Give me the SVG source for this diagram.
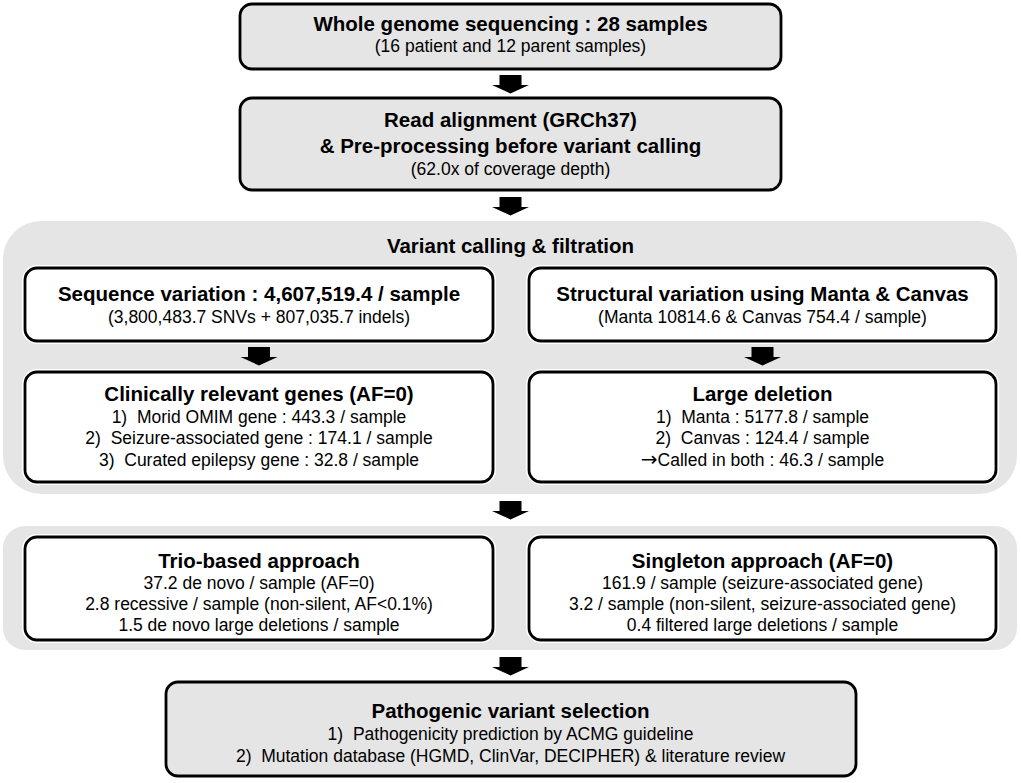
<svg xmlns="http://www.w3.org/2000/svg" width="1021" height="783" viewBox="0 0 1021 783">
<defs>
<style>
.panel{fill:#e5e5e5;stroke:none}
.gbox{fill:#e5e5e5;stroke:#000;stroke-width:2.8}
.wbox{fill:#fff;stroke:#000;stroke-width:2.8}
.halo{fill:none;stroke:#fff;stroke-width:6}
text{font-family:"Liberation Sans",Arial,sans-serif;text-anchor:middle;fill:#000}
.t{font-weight:bold;font-size:20.5px}
.s{font-size:17.5px}
.sym{font-family:"DejaVu Sans",sans-serif;font-size:20px}
.arrow{fill:#000}
</style>
<path id="arr" d="M-11,0 H11 V10 H18.5 L0,18.5 L-18.5,10 H-11 Z"/>
</defs>
<rect width="1021" height="783" fill="#fff"/>
<g id="panel-variant-calling">
<rect class="panel" x="3" y="221" width="1014" height="273" rx="38"/>
<text class="t" x="510.5" y="253">Variant calling &amp; filtration</text>
</g>
<g id="panel-approach">
<rect class="panel" x="3" y="526" width="1014" height="124" rx="22"/>
</g>
<g id="n-wgs">
<rect class="gbox" x="240" y="4" width="541" height="65" rx="12"/>
<text class="t" x="510.5" y="31">Whole genome sequencing : 28 samples</text>
<text class="s" x="510.5" y="52">(16 patient and 12 parent samples)</text>
</g>
<g id="n-align">
<rect class="gbox" x="240" y="98" width="541" height="92" rx="12"/>
<text class="t" x="510.5" y="127">Read alignment (GRCh37)</text>
<text class="t" x="510.5" y="153">&amp; Pre-processing before variant calling</text>
<text class="s" x="510.5" y="175">(62.0x of coverage depth)</text>
</g>
<g id="n-seqvar">
<rect class="halo" x="25" y="268" width="468" height="73" rx="12"/>
<rect class="wbox" x="25" y="268" width="468" height="73" rx="12"/>
<text class="t" x="259" y="301">Sequence variation : 4,607,519.4 / sample</text>
<text class="s" x="259" y="323">(3,800,483.7 SNVs + 807,035.7 indels)</text>
</g>
<g id="n-structvar">
<rect class="halo" x="529" y="268" width="467" height="73" rx="12"/>
<rect class="wbox" x="529" y="268" width="467" height="73" rx="12"/>
<text class="t" x="762.5" y="301">Structural variation using Manta &amp; Canvas</text>
<text class="s" x="762.5" y="323">(Manta 10814.6 &amp; Canvas 754.4 / sample)</text>
</g>
<g id="n-clinical">
<rect class="halo" x="25" y="372" width="468" height="110" rx="12"/>
<rect class="wbox" x="25" y="372" width="468" height="110" rx="12"/>
<text class="t" x="259" y="401">Clinically relevant genes (AF=0)</text>
<text class="s" x="259" y="423" xml:space="preserve">1)  Morid OMIM gene : 443.3 / sample</text>
<text class="s" x="259" y="444" xml:space="preserve">2)  Seizure-associated gene : 174.1 / sample</text>
<text class="s" x="259" y="466" xml:space="preserve">3)  Curated epilepsy gene : 32.8 / sample</text>
</g>
<g id="n-largedel">
<rect class="halo" x="529" y="372" width="467" height="110" rx="12"/>
<rect class="wbox" x="529" y="372" width="467" height="110" rx="12"/>
<text class="t" x="762.5" y="401">Large deletion</text>
<text class="s" x="762.5" y="423" xml:space="preserve">1)  Manta : 5177.8 / sample</text>
<text class="s" x="762.5" y="444" xml:space="preserve">2)  Canvas : 124.4 / sample</text>
<text class="s" x="762.5" y="466"><tspan class="sym">→</tspan>Called in both : 46.3 / sample</text>
</g>
<g id="n-trio">
<rect class="halo" x="25" y="537" width="468" height="103" rx="12"/>
<rect class="wbox" x="25" y="537" width="468" height="103" rx="12"/>
<text class="t" x="259" y="568">Trio-based approach</text>
<text class="s" x="259" y="589">37.2 de novo / sample (AF=0)</text>
<text class="s" x="259" y="610">2.8 recessive / sample (non-silent, AF&lt;0.1%)</text>
<text class="s" x="259" y="631">1.5 de novo large deletions / sample</text>
</g>
<g id="n-singleton">
<rect class="halo" x="529" y="537" width="467" height="103" rx="12"/>
<rect class="wbox" x="529" y="537" width="467" height="103" rx="12"/>
<text class="t" x="762.5" y="568">Singleton approach (AF=0)</text>
<text class="s" x="762.5" y="589">161.9 / sample (seizure-associated gene)</text>
<text class="s" x="762.5" y="610">3.2 / sample (non-silent, seizure-associated gene)</text>
<text class="s" x="762.5" y="631">0.4 filtered large deletions / sample</text>
</g>
<g id="n-pathogenic">
<rect class="gbox" x="166" y="682" width="690" height="94" rx="12"/>
<text class="t" x="510.5" y="718">Pathogenic variant selection</text>
<text class="s" x="510.5" y="740" xml:space="preserve">1)  Pathogenicity prediction by ACMG guideline</text>
<text class="s" x="510.5" y="762" xml:space="preserve">2)  Mutation database (HGMD, ClinVar, DECIPHER) &amp; literature review</text>
</g>
<g id="connectors" class="arrow">
<use href="#arr" x="510.5" y="75"/>
<use href="#arr" x="510.5" y="197"/>
<use href="#arr" x="259" y="347"/>
<use href="#arr" x="762.5" y="347"/>
<use href="#arr" x="510.5" y="501"/>
<use href="#arr" x="510.5" y="657"/>
</g>
</svg>
